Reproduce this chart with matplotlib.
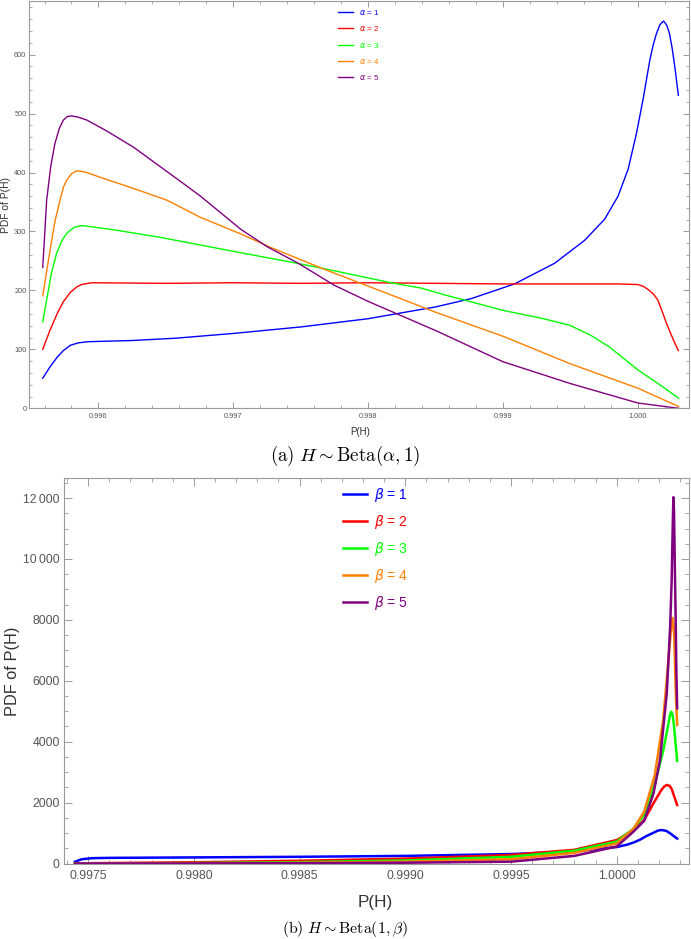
import numpy as np
import matplotlib
matplotlib.use("Agg")
import matplotlib.pyplot as plt
from matplotlib.ticker import MultipleLocator, FixedLocator

plt.rcParams['font.family'] = ['Liberation Sans', 'DejaVu Sans']

colors = ['#0000ff', '#ff0000', '#00ff00', '#ff8000', '#800080']

# ---- panel (a): H ~ Beta(alpha, 1) ----
a1_x = [0.995587, 0.99564, 0.995695, 0.99574, 0.995793, 0.99585, 0.995923, 0.99625, 0.996578, 0.997,
        0.9975, 0.998, 0.9985, 0.998764, 0.999086, 0.999383, 0.999606, 0.999755, 0.999854, 0.999929,
        0.99999, 1.00004, 1.000089, 1.000115, 1.000139, 1.000165, 1.000191, 1.000215, 1.000235,
        1.000255, 1.000275, 1.000301]
a1_y = [51, 70, 87, 98, 107, 111, 113, 115, 119, 127, 138, 152, 172, 186, 211, 246, 285, 321, 360, 406,
        466, 525, 590, 617, 636, 651, 657, 650, 636, 611, 579, 531]

a2_x = [0.995587, 0.99564, 0.995695, 0.99574, 0.995793, 0.99584, 0.995875, 0.99595, 0.9965, 0.997,
        0.9975, 0.998, 0.9985, 0.999, 0.9995, 0.99985, 1.0, 1.00004, 1.00008, 1.00012, 1.00015,
        1.00018, 1.00021, 1.00024, 1.00027, 1.000301]
a2_y = [100, 132, 161, 181, 197, 206, 210, 213, 212, 213, 212, 213, 212, 211, 211, 211, 210, 207, 201,
        193, 183, 165, 146, 129, 113, 98]

a3_x = [0.995587, 0.995616, 0.99565, 0.99569, 0.99573, 0.995765, 0.99582, 0.995876, 0.99595, 0.996137,
        0.996459, 0.996756, 0.997054, 0.99745, 0.997673, 0.998169, 0.998392, 0.998544, 0.999003,
        0.9993, 0.999494, 0.99965, 0.99979, 1.000002, 1.000182, 1.000303]
a3_y = [147, 184, 228, 263, 285, 297, 307, 310, 308, 302, 290, 277, 264, 247, 237, 213, 204, 194, 166,
        152, 141, 124, 104, 65, 37, 17]

a4_x = [0.995587, 0.995641, 0.995678, 0.995715, 0.99574, 0.995765, 0.9958, 0.99584, 0.9959, 0.996013,
        0.99626, 0.996509, 0.996756, 0.997054, 0.997277, 0.997673, 0.997946, 0.998243, 0.9985,
        0.999003, 0.999494, 1.000002, 1.000303]
a4_y = [191, 268, 318, 353, 375, 387, 398, 403, 401, 392, 373, 353, 324, 296, 273, 236, 212, 186, 163,
        122, 76, 34, 3]

a5_x = [0.995587, 0.995616, 0.995646, 0.995677, 0.99571, 0.99574, 0.99577, 0.9958, 0.99585, 0.995914,
        0.99605, 0.99626, 0.996632, 0.996756, 0.997054, 0.997252, 0.997475, 0.997747, 0.998004,
        0.9985, 0.999, 0.9995, 1.0, 1.000303]
a5_y = [239, 353, 410, 449, 475, 489, 495, 496, 494, 489, 472, 443, 381, 360, 304, 274, 247, 209, 181,
        132, 79, 42, 9, 0]

alpha_labels = [r'$\alpha$ = 1', r'$\alpha$ = 2', r'$\alpha$ = 3', r'$\alpha$ = 4', r'$\alpha$ = 5']

# ---- panel (b): H ~ Beta(1, beta) ----
b1_x = [0.997438, 0.99747, 0.99752, 0.9976, 0.998, 0.9985, 0.999, 0.9995, 0.9998, 1.0, 1.00005,
        1.00008, 1.00011, 1.00014, 1.000174, 1.000195, 1.000213, 1.000235, 1.000253, 1.00027, 1.000286]
b1_y = [60, 140, 175, 185, 200, 220, 250, 310, 400, 540, 620, 690, 780, 900, 1010, 1080, 1100, 1070,
        990, 900, 820]

b2_x = [0.997438, 0.998, 0.9985, 0.999, 0.9995, 0.9998, 1.0, 1.00008, 1.00013, 1.00018, 1.00021,
        1.000225, 1.000237, 1.00025, 1.00026, 1.000286]
b2_y = [5, 40, 90, 160, 280, 450, 770, 1100, 1430, 2050, 2400, 2530, 2580, 2550, 2450, 1920]

b3_x = [0.997438, 0.998, 0.9985, 0.999, 0.9995, 0.9998, 1.0, 1.00008, 1.00013, 1.00018, 1.00022,
        1.000245, 1.000252, 1.000258, 1.000264, 1.00027, 1.000286]
b3_y = [0, 15, 45, 100, 220, 420, 720, 1150, 1600, 2600, 3700, 4600, 4880, 4980, 4880, 4600, 3370]

b4_x = [0.997438, 0.998, 0.9985, 0.999, 0.9995, 0.9998, 1.0, 1.00008, 1.00013, 1.00018, 1.00022,
        1.000245, 1.000258, 1.000265, 1.000272, 1.00028, 1.000286]
b4_y = [0, 5, 25, 60, 140, 350, 660, 1150, 1700, 2900, 4700, 6700, 7800, 8060, 7500, 5500, 4550]

b5_x = [0.997438, 0.998, 0.9985, 0.999, 0.9995, 0.9998, 1.0, 1.00008, 1.00013, 1.000174, 1.000205,
        1.000237, 1.000253, 1.00026, 1.000265, 1.000268, 1.000271, 1.000275, 1.000279, 1.000282,
        1.000286]
b5_y = [0, 2, 10, 25, 60, 250, 560, 1050, 1400, 2300, 3400, 5600, 7800, 9300, 11060, 12030, 11600,
        9800, 8000, 6400, 5100]

beta_labels = [r'$\beta$ = 1', r'$\beta$ = 2', r'$\beta$ = 3', r'$\beta$ = 4', r'$\beta$ = 5']

W, H = 691, 939
fig = plt.figure(figsize=(W / 100, H / 100), dpi=100)

frame_col = '#9a9a9a'
label_col = '#555555'


def style_axes(ax, size, major_len, minor_len, xpad, ypad):
    for s in ax.spines.values():
        s.set_color(frame_col)
        s.set_linewidth(0.8)
    ax.tick_params(which='both', direction='in', top=True, right=True, color=frame_col,
                   labelcolor=label_col, labelsize=size)
    ax.tick_params(which='major', length=major_len, width=0.7)
    ax.tick_params(which='minor', length=minor_len, width=0.6)
    ax.tick_params(axis='x', pad=xpad)
    ax.tick_params(axis='y', pad=ypad)


# top panel
ax1 = fig.add_axes([29 / W, 1 - 408.3 / H, 660 / W, 407.3 / H])
for xs, ys, c, lab in zip([a1_x, a2_x, a3_x, a4_x, a5_x], [a1_y, a2_y, a3_y, a4_y, a5_y],
                          colors, alpha_labels):
    ax1.plot(xs, ys, color=c, lw=1.0, label=lab, clip_on=False, solid_joinstyle='round')
ax1.set_xlim(0.995485, 1.00038)
ax1.set_ylim(0, 691)
ax1.xaxis.set_major_locator(FixedLocator([0.996, 0.997, 0.998, 0.999, 1.000]))
ax1.set_xticklabels(['0.996', '0.997', '0.998', '0.999', '1.000'])
ax1.xaxis.set_minor_locator(MultipleLocator(0.0002))
ax1.yaxis.set_major_locator(MultipleLocator(100))
ax1.yaxis.set_minor_locator(MultipleLocator(20))
style_axes(ax1, 5.3, 4, 2.2, 3.5, 1.8)
ax1.legend(loc='upper left', bbox_to_anchor=(338 / W, 1 - 8 / H), bbox_transform=fig.transFigure,
           frameon=False, fontsize=5.8, handlelength=1.85, handletextpad=0.8, labelspacing=0.9,
           borderpad=0, borderaxespad=0, labelcolor='linecolor')
fig.text(360 / W, 1 - 432 / H, 'P(H)', ha='center', va='center', fontsize=7, color='#333333')
fig.text(6 / W, 1 - 205 / H, 'PDF of P(H)', ha='center', va='center', rotation=90,
         fontsize=7.4, color='#333333')
fig.text(345 / W, 1 - 456 / H, r'$\mathrm{(a)}\ H \sim \mathrm{Beta}(\alpha, 1)$', ha='center',
         va='center', fontsize=13.6, math_fontfamily='cm', color='black')

# bottom panel
ax2 = fig.add_axes([64 / W, 1 - 863.5 / H, 625 / W, 385.5 / H])
for xs, ys, c, lab in zip([b1_x, b2_x, b3_x, b4_x, b5_x], [b1_y, b2_y, b3_y, b4_y, b5_y],
                          colors, beta_labels):
    ax2.plot(xs, ys, color=c, lw=1.8, label=lab, clip_on=False, solid_joinstyle='round')
ax2.set_xlim(0.997386, 1.000342)
ax2.set_ylim(0, 12660)
ax2.xaxis.set_major_locator(FixedLocator([0.9975, 0.998, 0.9985, 0.999, 0.9995, 1.0]))
ax2.set_xticklabels(['0.9975', '0.9980', '0.9985', '0.9990', '0.9995', '1.0000'])
ax2.xaxis.set_minor_locator(MultipleLocator(0.0001))
ax2.yaxis.set_major_locator(FixedLocator([0, 2000, 4000, 6000, 8000, 10000, 12000]))
ax2.set_yticklabels(['0', '2000', '4000', '6000', '8000', '10\u2009000', '12\u2009000'])
ax2.yaxis.set_minor_locator(MultipleLocator(500))
style_axes(ax2, 8.7, 5.5, 3, 4.5, 3)
ax2.legend(loc='upper left', bbox_to_anchor=(343 / W, 1 - 486 / H), bbox_transform=fig.transFigure,
           frameon=False, fontsize=10, handlelength=1.7, handletextpad=0.55, labelspacing=0.64,
           borderpad=0, borderaxespad=0, labelcolor='linecolor')
fig.text(375 / W, 1 - 902 / H, 'P(H)', ha='center', va='center', fontsize=12.3, color='#333333')
fig.text(12 / W, 1 - 671 / H, 'PDF of P(H)', ha='center', va='center', rotation=90,
         fontsize=11.8, color='#333333')
fig.text(345 / W, 1 - 929 / H, r'$\mathrm{(b)}\ H \sim \mathrm{Beta}(1, \beta)$', ha='center',
         va='center', fontsize=11.4, math_fontfamily='cm', color='black')

fig.savefig('out.png', dpi=100)
